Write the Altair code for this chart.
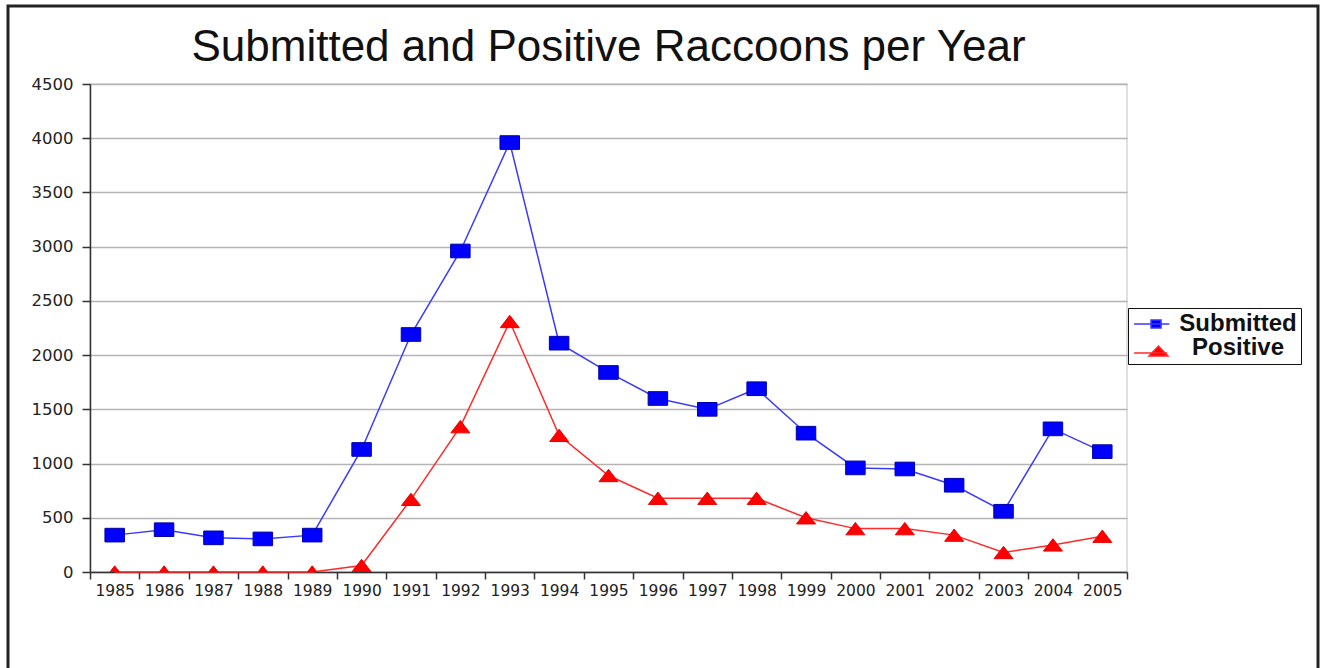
import altair as alt
import pandas as pd

# Annual raccoon counts
years = ["1985", "1986", "1987", "1988", "1989", "1990", "1991", "1992", "1993", "1994", "1995",
         "1996", "1997", "1998", "1999", "2000", "2001", "2002", "2003", "2004", "2005"]
submitted = [340, 390, 315, 305, 340, 1130, 2190, 2960, 3960, 2110, 1840,
             1600, 1500, 1690, 1280, 960, 950, 800, 560, 1320, 1110]
positive = [0, 0, 0, 0, 0, 60, 670, 1340, 2310, 1260, 890,
            680, 680, 680, 500, 400, 400, 340, 180, 250, 330]

series_names = ["Submitted", "Positive"]
line_colors = ["#3a3aff", "#ff2a2a"]
y_ticks = [0, 500, 1000, 1500, 2000, 2500, 3000, 3500, 4000, 4500]

df = pd.DataFrame(
    {"Year": years * 2,
     "Count": submitted + positive,
     "Series": ["Submitted"] * len(years) + ["Positive"] * len(years)}
)

FONT = "Liberation Sans"
AXIS_FONT = "DejaVu Sans"

# Marker outlines (wider than tall)
rect_marker = "M-1,-0.7H1V0.7H-1Z"
tri_marker = "M0,-0.65L1,0.65H-1Z"
# Legend glyphs: a short line segment with the marker on it
legend_sub = "M-0.9,0H2.3M0.64,-0.36H1.55V0.36H0.64Z"
legend_pos = "M-0.9,0.45H2.1M0.45,0.73L1.32,-0.18L2.18,0.73Z"

x_enc = alt.X(
    "Year:O",
    sort=years,
    scale=alt.Scale(type="band", paddingInner=0, paddingOuter=0),
    axis=alt.Axis(
        title=None, labelAngle=0, tickBand="extent", tickSize=7, tickColor="#333",
        tickWidth=1.5, domainColor="#333", domainWidth=1.5, labelFont=AXIS_FONT,
        labelFontSize=15.5, labelColor="#222", labelPadding=4, grid=False,
    ),
)
y_enc = alt.Y(
    "Count:Q",
    scale=alt.Scale(domain=[0, 4500], nice=False, zero=True),
    axis=alt.Axis(
        title=None, values=y_ticks, format="d", tickSize=8, tickColor="#333", tickWidth=1.5,
        domainColor="#333", domainWidth=1.5, labelFont=AXIS_FONT, labelFontSize=16.5,
        labelColor="#222", labelPadding=9, gridColor="#b4b4b4", gridWidth=1.5,
    ),
)

# One boxed legend shared by the line colour and the marker glyphs
legend_box = alt.Legend(
    orient="none", legendX=1038, legendY=224, title=None,
    strokeColor="#111", fillColor="white", padding=4,
    labelFont=FONT, labelFontSize=24, labelFontWeight="bold", labelColor="#111",
    labelAlign="center", labelOffset=82, symbolSize=484, rowPadding=0,
    symbolStrokeWidth=1.5, symbolOpacity=1,
)

base = alt.Chart(df)

lines = base.mark_line(strokeWidth=1.5).encode(
    x=x_enc,
    y=y_enc,
    color=alt.Color("Series:N", scale=alt.Scale(domain=series_names, range=line_colors),
                    legend=legend_box),
    detail="Series:N",
)

sub_points = base.transform_filter(alt.datum.Series == "Submitted").mark_point(
    shape=rect_marker, size=380, filled=True, fill="#0000ff", stroke="#0000a8",
    strokeWidth=1, opacity=1,
).encode(x=x_enc, y=y_enc)

pos_points = base.transform_filter(alt.datum.Series == "Positive").mark_point(
    shape=tri_marker, size=361, filled=True, fill="#ff0000", stroke="#ee0000",
    strokeWidth=1, opacity=1, clip=True,
).encode(x=x_enc, y=y_enc)

# Transparent points that carry the legend glyphs
legend_layer = base.mark_point(
    filled=True, size=484, strokeWidth=1.5, opacity=0,
).encode(
    x=x_enc,
    y=y_enc,
    shape=alt.Shape("Series:N", scale=alt.Scale(domain=series_names, range=[legend_sub, legend_pos]),
                    legend=legend_box),
    fill=alt.Fill("Series:N", scale=alt.Scale(domain=series_names, range=["#0000ff", "#ff0000"]),
                  legend=legend_box),
    stroke=alt.Stroke("Series:N", scale=alt.Scale(domain=series_names, range=line_colors),
                      legend=legend_box),
)

# Outer border around the whole figure
frame = alt.Chart(alt.Data(values=[{}])).mark_rect(
    fillOpacity=0, stroke="#222", strokeWidth=3,
).encode(
    x=alt.value(-82), x2=alt.value(1228), y=alt.value(-78), y2=alt.value(600),
)

chart = (
    alt.layer(lines, sub_points, pos_points, legend_layer, frame)
    .properties(
        width=1037,
        height=488,
        autosize=alt.AutoSizeParams(type="none"),
        padding={"left": 90, "top": 84, "right": 195, "bottom": 96},
        title=alt.Title(
            "Submitted and Positive Raccoons per Year",
            font=FONT, fontSize=44, fontWeight="normal", color="#111",
            anchor="middle", frame="group", offset=-65,
        ),
        background="white",
    )
    .configure_view(stroke="#d6d6d6", strokeWidth=1.5)
)

chart.save("out.html", embed_options={"renderer": "svg", "actions": False})
